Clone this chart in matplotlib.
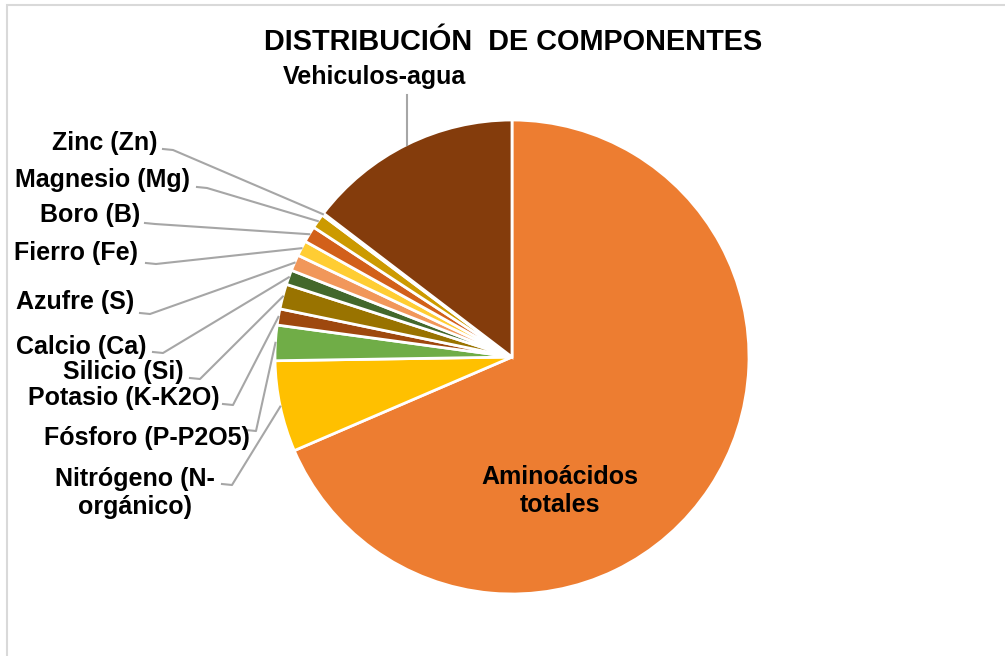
import numpy as np
import matplotlib
matplotlib.use("Agg")
import matplotlib.pyplot as plt
from matplotlib.patches import Rectangle

plt.rcParams['font.family'] = ['Liberation Sans', 'DejaVu Sans']
plt.rcParams['font.weight'] = 'bold'

# componentes, en el orden del grafico (sentido horario desde arriba)
componentes = ["Aminoácidos\ntotales", "Nitrógeno (N-\norgánico)", "Fósforo (P-P2O5)",
               "Potasio (K-K2O)", "Silicio (Si)", "Calcio (Ca)", "Azufre (S)",
               "Fierro (Fe)", "Boro (B)", "Magnesio (Mg)", "Zinc (Zn)", "Vehiculos-agua"]
porcentajes = [68.4, 6.2, 2.4, 1.1, 1.7, 1.0, 1.1, 1.05, 1.1, 1.0, 0.15, 14.6]
colores = ["#ED7D31", "#FFC000", "#70AD47", "#9E480E", "#997300", "#43682B",
           "#F1975A", "#FFCD33", "#D2601A", "#CC9A00", "#7F6000", "#843C0C"]

W, H = 1005, 656
fig = plt.figure(figsize=(W / 100, H / 100), dpi=100)
ax = fig.add_axes([0, 0, 1, 1])

cx, cy, r = 512, H - 357, 237
wedges, _ = ax.pie(porcentajes, colors=colores, startangle=90, counterclock=False,
                   center=(cx, cy), radius=r, frame=True,
                   wedgeprops=dict(edgecolor="white", linewidth=2))
ax.set_xlim(0, W)
ax.set_ylim(0, H)
ax.set_aspect('equal')
ax.axis('off')

# marco del area del grafico
ax.add_patch(Rectangle((7, -10), W + 20, H - 5 + 10, fill=False, ec="#D9D9D9", lw=1.5))

ax.text(513, H - 42, "DISTRIBUCIÓN  DE COMPONENTES", ha='center', va='center',
        fontsize=20.8, fontweight='bold')

# posicion de etiquetas (borde derecho, centro y) en pixeles desde arriba
pos = {
    "Nitrógeno (N-\norgánico)": (215, 493),
    "Fósforo (P-P2O5)": (250, 438),
    "Potasio (K-K2O)": (220, 398),
    "Silicio (Si)": (184, 372),
    "Calcio (Ca)": (146, 347),
    "Azufre (S)": (134, 302),
    "Fierro (Fe)": (138, 253),
    "Boro (B)": (140, 215),
    "Magnesio (Mg)": (190, 180),
    "Zinc (Zn)": (157, 143),
}
inicio = {
    "Nitrógeno (N-\norgánico)": (222, 484),
    "Fósforo (P-P2O5)": (246, 430),
    "Potasio (K-K2O)": (223, 404),
    "Silicio (Si)": (190, 378),
    "Calcio (Ca)": (153, 352),
    "Azufre (S)": (140, 313),
    "Fierro (Fe)": (146, 263),
    "Boro (B)": (145, 223),
    "Magnesio (Mg)": (197, 187),
    "Zinc (Zn)": (163, 149),
}

for w, nombre in zip(wedges, componentes):
    ang = np.deg2rad((w.theta1 + w.theta2) / 2)
    px, py = cx + r * np.cos(ang), cy + r * np.sin(ang)
    if nombre.startswith("Amino"):
        ax.text(560, H - 491, nombre, ha='center', va='center', fontsize=18,
                fontweight='bold', linespacing=1.2)
    elif nombre == "Vehiculos-agua":
        ax.text(374, H - 77, nombre, ha='center', va='center', fontsize=18, fontweight='bold')
        ax.plot([px, px], [H - 95, py], color="#A6A6A6", lw=1.5)
    else:
        tx, ty = pos[nombre]
        if "\n" in nombre:
            ax.text(tx - 80, H - ty, nombre, ha='center', va='center', fontsize=18,
                    fontweight='bold', linespacing=1.2)
        else:
            ax.text(tx, H - ty, nombre, ha='right', va='center', fontsize=18, fontweight='bold')
        sx, sy = inicio[nombre]
        ax.plot([sx, sx + 10, px], [H - sy, H - sy - 1, py], color="#A6A6A6", lw=1.5)

fig.savefig("out.png", dpi=100)
